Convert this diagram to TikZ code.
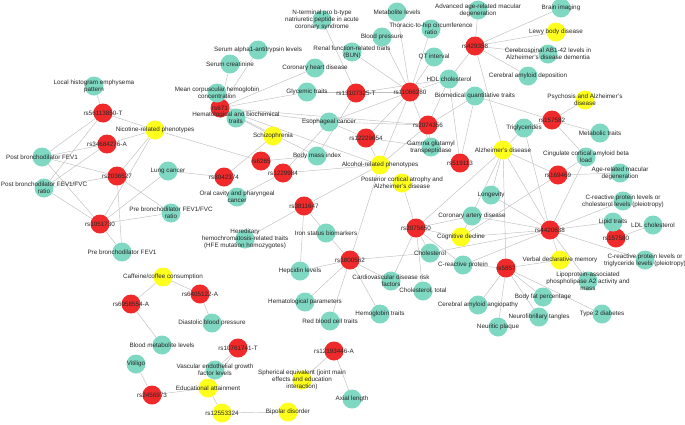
\documentclass[tikz,border=0pt]{standalone}
\usepackage{fontspec}
\setmainfont{Liberation Sans}
\pgfdeclarelayer{bg}
\pgfsetlayers{bg,main}
\definecolor{cred}{HTML}{F02A2A}
\definecolor{cteal}{HTML}{7FD8C2}
\definecolor{cyel}{HTML}{FFFF1E}
\tikzset{
 base/.style={circle,minimum size=19pt,inner sep=0pt},
 rn/.style={base,fill=cred},
 tn/.style={base,fill=cteal},
 yn/.style={base,fill=cyel},
 lab/.style={font=\fontsize{6.3}{7}\selectfont,align=center,text=black!85,inner sep=0pt},
 edge/.style={draw=black!25,line width=0.45pt}
}
\newcommand{\N}[5]{\node[#2] (#1) at (#3,#4) {}; \node[lab] at (#1) {#5};}
\begin{document}
\begin{tikzpicture}[x=1pt,y=-1pt]
\useasboundingbox (0,0) rectangle (685,424);
% red
\N{r5611}{rn}{103}{113}{rs56113850-T}
\N{r3468}{rn}{107}{144}{rs34684276-A}
\N{r2036}{rn}{117}{176}{rs2036527}
\N{r1051}{rn}{100}{224}{rs1051730}
\N{r8042}{rn}{224}{177}{rs8042374}
\N{r6265}{rn}{261}{161}{rs6265}
\N{r1229}{rn}{283}{173}{rs1229984}
\N{r671}{rn}{220}{108}{rs671}
\N{r1310}{rn}{356}{93}{rs13107325-T}
\N{r1106}{rn}{410}{92}{rs11066280}
\N{r2074}{rn}{428}{125}{rs2074356}
\N{r1222}{rn}{366}{138}{rs12229654}
\N{r5191}{rn}{460}{163}{rs519113}
\N{r4293}{rn}{475}{46}{rs429358}
\N{r1575}{rn}{552}{120}{rs157582}
\N{r1694}{rn}{558}{175}{rs169469}
\N{r4420}{rn}{550}{230}{rs4420638}
\N{r5857}{rn}{506}{268}{rs5857}
\N{r157b}{rn}{616}{238}{rs157580}
\N{r3811}{rn}{304}{206}{rs3811647}
\N{r2075}{rn}{416}{228}{rs2075650}
\N{r1800}{rn}{350}{260}{rs1800562}
\N{r6958}{rn}{131}{304}{rs6958554-A}
\N{r6405}{rn}{200}{294}{rs6405122-A}
\N{r1076}{rn}{238}{348}{rs10761741-T}
\N{r1219}{rn}{334}{351}{rs12193446-A}
\N{r2456}{rn}{152}{395}{rs2456973}
% yellow
\N{nico}{yn}{155}{130}{Nicotine-related phenotypes}
\N{schi}{yn}{273}{136}{Schizophrenia}
\N{alco}{yn}{380}{165}{Alcohol-related phenotypes}
\N{post}{yn}{402}{183}{Posterior cortical atrophy and\\Alzheimer's disease}
\N{alzh}{yn}{503}{150}{Alzheimer's disease}
\N{cogn}{yn}{461}{237}{Cognitive decline}
\N{verb}{yn}{560}{260}{Verbal declarative memory}
\N{lewy}{yn}{556}{32}{Lewy body disease}
\N{psyc}{yn}{585}{100}{Psychosis and Alzheimer's\\disease}
\N{caff}{yn}{163}{277}{Caffeine/coffee consumption}
\N{educ}{yn}{208}{388}{Educational attainment}
\N{r1255}{yn}{222}{413}{rs12553324}
\N{bipo}{yn}{288}{412}{Bipolar disorder}
\N{sphe}{yn}{302}{380}{Spherical equivalent (joint main\\effects and education\\interaction)}
% teal
\N{loca}{tn}{94}{86}{Local histogram emphysema\\pattern}
\N{pbf1}{tn}{42}{157}{Post bronchodilator FEV1}
\N{pbfr}{tn}{44}{188}{Post bronchodilator FEV1/FVC\\ratio}
\N{lung}{tn}{168}{171}{Lung cancer}
\N{prfr}{tn}{171}{213}{Pre bronchodilator FEV1/FVC\\ratio}
\N{pre1}{tn}{122}{252}{Pre bronchodilator FEV1}
\N{sera}{tn}{258}{50}{Serum alpha1-antitrypsin levels}
\N{serc}{tn}{230}{64}{Serum creatinine}
\N{mcv}{tn}{217}{93}{Mean corpuscular hemoglobin\\concentration}
\N{hema}{tn}{236}{118}{Hematological and biochemical\\traits}
\N{oral}{tn}{237}{197}{Oral cavity and pharyngeal\\cancer}
\N{glyc}{tn}{307}{92}{Glycemic traits}
\N{coro}{tn}{315}{68}{Coronary heart disease}
\N{esop}{tn}{329}{122}{Esophageal cancer}
\N{bmi}{tn}{317}{156}{Body mass index}
\N{ntpro}{tn}{322}{20}{N-terminal pro b-type\\natriuretic peptide in acute\\coronary syndrome}
\N{rena}{tn}{352}{52}{Renal function-related traits\\(BUN)}
\N{bloo}{tn}{382}{37}{Blood pressure}
\N{meta}{tn}{397}{12}{Metabolite levels}
\N{thor}{tn}{431}{29}{Thoracic-to-hip circumference\\ratio}
\N{qt}{tn}{434}{57}{QT interval}
\N{hdl}{tn}{449}{79}{HDL cholesterol}
\N{biom}{tn}{475}{96}{Biomedical quantitative traits}
\N{gamm}{tn}{431}{147}{Gamma glutamyl\\transpeptidase}
\N{adva}{tn}{478}{10}{Advanced age-related macular\\degeneration}
\N{brai}{tn}{561}{8}{Brain imaging}
\N{cere}{tn}{548}{54}{Cerebrospinal AB1-42 levels in\\Alzheimer's disease dementia}
\N{cead}{tn}{528}{76}{Cerebral amyloid deposition}
\N{trig}{tn}{524}{128}{Triglycerides}
\N{metb}{tn}{600}{133}{Metabolic traits}
\N{cing}{tn}{586}{157}{Cingulate cortical amyloid beta\\load}
\N{agem}{tn}{620}{173}{Age-related macular\\degeneration}
\N{crpa}{tn}{623}{201}{C-reactive protein levels or\\cholesterol levels (pleiotropy)}
\N{lipi}{tn}{613}{222}{Lipid traits}
\N{ldl}{tn}{653}{225}{LDL cholesterol}
\N{crpb}{tn}{645}{260}{C-reactive protein levels or\\triglyceride levels (pleiotropy)}
\N{long}{tn}{491}{195}{Longevity}
\N{coad}{tn}{472}{216}{Coronary artery disease}
\N{chol}{tn}{430}{253}{Cholesterol}
\N{crp}{tn}{463}{265}{C-reactive protein}
\N{cvd}{tn}{391}{281}{Cardiovascular disease risk\\factors}
\N{chtt}{tn}{423}{291}{Cholesterol, total}
\N{ceaa}{tn}{478}{305}{Cerebral amyloid angiopathy}
\N{neup}{tn}{498}{327}{Neuritic plaque}
\N{neuf}{tn}{539}{317}{Neurofibrillary tangles}
\N{bfp}{tn}{543}{297}{Body fat percentage}
\N{t2d}{tn}{602}{314}{Type 2 diabetes}
\N{lppl}{tn}{588}{281}{Lipoprotein-associated\\phospholipase A2 activity and\\mass}
\N{hfe}{tn}{245}{239}{Hereditary\\hemochromatosis-related traits\\(HFE mutation homozygotes)}
\N{iron}{tn}{326}{233}{Iron status biomarkers}
\N{hepc}{tn}{300}{271}{Hepcidin levels}
\N{hemp}{tn}{305}{302}{Hematological parameters}
\N{rbc}{tn}{330}{321}{Red blood cell traits}
\N{hemo}{tn}{380}{314}{Hemoglobin traits}
\N{dbp}{tn}{212}{323}{Diastolic blood pressure}
\N{blme}{tn}{162}{345}{Blood metabolite levels}
\N{viti}{tn}{136}{364}{Vitiligo}
\N{vegf}{tn}{215}{370}{Vascular endothelial growth\\factor levels}
\N{axia}{tn}{352}{399}{Axial length}
\begin{pgfonlayer}{bg}
\foreach \a/\b in {r5611/loca,r5611/nico,r5611/pbf1,r5611/pbfr,
 r3468/nico,r3468/pbf1,r3468/pbfr,
 r2036/nico,r2036/pbf1,r2036/pbfr,r2036/pre1,r2036/prfr,
 r1051/nico,r1051/pbf1,r1051/pbfr,r1051/prfr,r1051/pre1,r1051/lung,
 r8042/lung,r8042/schi,nico/r6265,r6265/bmi,r1229/alco,r1229/esop,r1229/oral,
 r671/serc,r671/sera,r671/mcv,r671/hema,r671/coro,r671/glyc,r671/schi,r671/esop,r671/bmi,r671/r2074,r671/alco,
 r1310/ntpro,r1310/glyc,r1310/bmi,r1310/hdl,
 r1106/bloo,r1106/meta,r1106/thor,r1106/qt,r1106/rena,r1106/hdl,r1106/gamm,r1106/glyc,r1106/r1222,r1106/alco,r1106/esop,
 r2074/hdl,r2074/biom,r2074/gamm,r2074/alco,r2074/esop,
 r1222/esop,r1222/alco,r1222/gamm,r5191/hdl,r5191/biom,
 r4293/adva,r4293/brai,r4293/lewy,r4293/cere,r4293/cead,r4293/hdl,r4293/alzh,
 r1575/psyc,r1575/metb,r1575/trig,r1575/cing,r1575/biom,
 r1694/cing,r1694/alzh,r1694/agem,r1694/cogn,
 alzh/long,alzh/r4420,alzh/r5857,alzh/cogn,alzh/r2075,alzh/trig,
 r4420/crpa,r4420/lipi,r4420/crpb,r4420/verb,r4420/lppl,r4420/cogn,r4420/coad,r4420/crp,r4420/long,r4420/cing,r4420/trig,r4420/chol,
 r157b/ldl,r157b/lipi,
 r5857/verb,r5857/crp,r5857/ceaa,r5857/neup,r5857/neuf,r5857/bfp,r5857/t2d,
 r2075/post,r2075/coad,r2075/cogn,r2075/chol,r2075/crp,r2075/cvd,r2075/chtt,
 r1800/chol,r1800/iron,r1800/hepc,r1800/hemp,r1800/rbc,r1800/hemo,r1800/cvd,r1800/alco,
 r3811/hfe,r3811/iron,r3811/hepc,r3811/alco,
 caff/r6958,caff/r6405,r6405/dbp,r6958/blme,r2456/viti,r2456/educ,
 educ/vegf,educ/r1255,educ/r1076,r1076/vegf,r1255/bipo,r1219/sphe,r1219/axia}
 \draw[edge] (\a) -- (\b);
\end{pgfonlayer}
\end{tikzpicture}
\end{document}
